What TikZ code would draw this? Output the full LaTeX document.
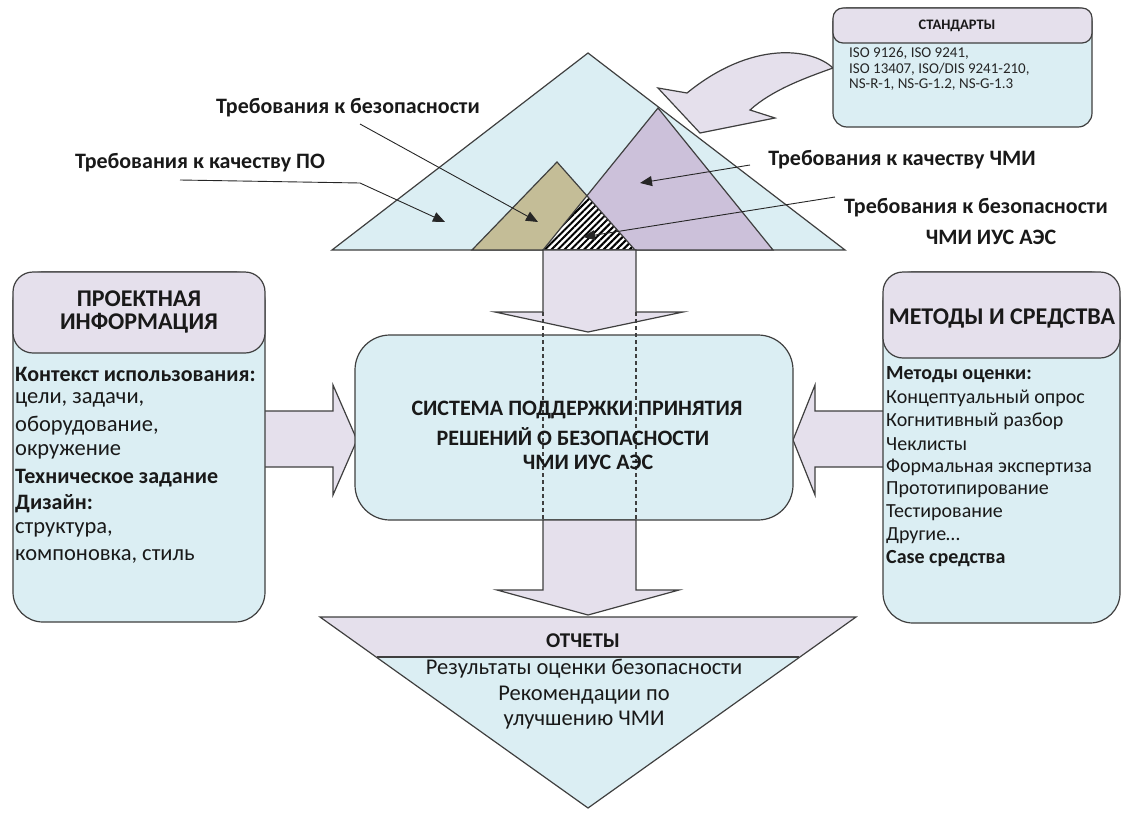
\documentclass[tikz,border=0pt]{standalone}
\usepackage{fontspec}
\setmainfont{Carlito}
\usetikzlibrary{arrows.meta,patterns.meta}
\definecolor{lblue}{HTML}{DBEEF3}
\definecolor{lav}{HTML}{E5E0EC}
\definecolor{purp}{HTML}{CCC1DA}
\definecolor{tanc}{HTML}{C4BD97}
\definecolor{edgec}{HTML}{3F3F3F}
\begin{document}
\begin{tikzpicture}[x=1pt,y=-1pt,
  outl/.style={draw=edgec,line width=1.2pt,line join=miter},
  ptr/.style={draw=black!85,line width=0.9pt,-{Triangle[length=12pt,width=10pt]}},
  txt/.style={inner sep=0pt,text=black!90,font=\fontsize{20}{24}\selectfont},
  btxt/.style={inner sep=0pt,text=black!90,font=\fontsize{20}{24}\selectfont\bfseries},
  lab/.style={inner sep=0pt,text=black!90,font=\fontsize{22}{26}\selectfont\bfseries},
  ltxt/.style={inner sep=0pt,text=black!90,font=\fontsize{22.5}{26}\selectfont},
  lbtxt/.style={inner sep=0pt,text=black!90,font=\fontsize{22}{26}\selectfont\bfseries},
  htxt/.style={inner sep=0pt,text=black!90,align=center,font=\fontsize{24}{23.5}\selectfont\bfseries},
  rtxt/.style={inner sep=0pt,text=black!90,font=\fontsize{22.5}{26}\selectfont},
  stxt/.style={inner sep=0pt,text=black!85,font=\fontsize{15}{16}\selectfont},
  panel/.style={outl,fill=lblue,inner sep=0pt},
  head/.style={outl,fill=lav,inner sep=0pt},
  blockarrow/.style={outl,fill=lav}]
\useasboundingbox (0,0) rectangle (1126,814);

% ---- pyramid of requirements
\path[outl,fill=lblue] (588,53) -- (845,250) -- (332,250) -- cycle;
\path[fill=tanc] (557,162) -- (635,250) -- (472,250) -- cycle;
\path[fill=purp] (658,108) -- (773,250) -- (543,250) -- cycle;
\path[fill=white] (587,196) -- (635,250) -- (543,250) -- cycle;
\path[pattern={Lines[angle=45,distance=4.6pt,line width=2.1pt]},pattern color=black] (587,196) -- (635,250) -- (543,250) -- cycle;
\draw[outl] (557,162) -- (635,250) -- (472,250) -- cycle;
\draw[outl] (658,108) -- (773,250) -- (543,250) -- cycle;

% ---- top block arrow
\path[blockarrow] (543,250) -- (543,312) -- (495,312) -- (588,332) -- (683,312) -- (636,312) -- (636,250) -- cycle;

% ---- side block arrows
\path[blockarrow] (262,411) -- (333,411) -- (333,385) -- (357,440) -- (333,495) -- (333,467) -- (262,467) -- cycle;
\path[blockarrow] (886,411) -- (815,411) -- (815,385) -- (793,440) -- (815,495) -- (815,467) -- (886,467) -- cycle;

% ---- central box
\node (sys) [panel,rounded corners=35pt,minimum width=438pt,minimum height=185pt] at (574,427.5) {};
\draw[edgec,line width=1.2pt,dash pattern=on 4pt off 3pt] (543,312) -- (543,520);
\draw[edgec,line width=1.2pt,dash pattern=on 4pt off 3pt] (636,312) -- (636,520);
\node (s1) [lab] at (577,410) {СИСТЕМА ПОДДЕРЖКИ ПРИНЯТИЯ};
\node (s2) [lab] at (573,437) {РЕШЕНИЙ О БЕЗОПАСНОСТИ};
\node (s3) [lab] at (588,462) {ЧМИ ИУС АЭС};

% ---- bottom block arrow
\path[blockarrow] (543,520) -- (543,590) -- (497,590) -- (588,615) -- (679,590) -- (636,590) -- (636,520) -- cycle;

% ---- reports triangle
\path[fill=lav] (320,617) -- (856,617) -- (799,657) -- (377,657) -- cycle;
\path[fill=lblue] (377,657) -- (799,657) -- (588,808) -- cycle;
\draw[outl] (320,617) -- (856,617) -- (588,808) -- cycle;
\draw[outl] (377,657) -- (799,657);
\node (r0) [inner sep=0pt,text=black!90,font=\fontsize{21}{24}\selectfont\bfseries] at (583,641) {ОТЧЕТЫ};
\node (r1) [rtxt] at (584,669) {Результаты оценки безопасности};
\node (r2) [rtxt] at (584,695) {Рекомендации по};
\node (r3) [rtxt] at (584,720) {улучшению ЧМИ};

% ---- left panel
\node (pin) [panel,rounded corners=30pt,minimum width=252pt,minimum height=350pt] at (139,447) {};
\node (pinH) [head,rounded corners=20pt,minimum width=252pt,minimum height=81pt] at (139,312.5) {};
\node (pinT) [htxt] at (139,312) {ПРОЕКТНАЯ\\ИНФОРМАЦИЯ};
\node (l1) [lbtxt,anchor=west] at (15,374) {Контекст использования:};
\node (l2) [ltxt,anchor=west] at (15,400) {цели, задачи,};
\node (l3) [ltxt,anchor=west] at (15,426) {оборудование,};
\node (l4) [ltxt,anchor=west] at (15,452) {окружение};
\node (l5) [lbtxt,anchor=west] at (15,478) {Техническое задание};
\node (l6) [lbtxt,anchor=west] at (15,504) {Дизайн:};
\node (l7) [ltxt,anchor=west] at (15,530) {структура,};
\node (l8) [ltxt,anchor=west] at (15,556) {компоновка, стиль};

% ---- right panel
\node (met) [panel,rounded corners=30pt,minimum width=237pt,minimum height=351pt] at (1001.5,447.5) {};
\node (metH) [head,rounded corners=20pt,minimum width=237pt,minimum height=86pt] at (1001.5,315) {};
\node (metT) [htxt] at (1002,318) {МЕТОДЫ И СРЕДСТВА};
\node (m1) [btxt,anchor=west] at (886,375) {Методы оценки:};
\node (m2) [txt,anchor=west] at (886,398) {Концептуальный опрос};
\node (m3) [txt,anchor=west] at (886,421) {Когнитивный разбор};
\node (m4) [txt,anchor=west] at (886,444) {Чеклисты};
\node (m5) [txt,anchor=west] at (886,467) {Формальная экспертиза};
\node (m6) [txt,anchor=west] at (886,490) {Прототипирование};
\node (m7) [txt,anchor=west] at (886,513) {Тестирование};
\node (m8) [txt,anchor=west] at (886,536) {Другие…};
\node (m9) [btxt,anchor=west] at (886,559) {Case средства};

% ---- curved arrow from standards
\path[blockarrow] (833,68) .. controls (812,48) and (752,40) .. (687,93) -- (658,88) -- (700,133) -- (775,118) -- (750,110) .. controls (772,90) and (805,78) .. (833,68) -- cycle;

% ---- standards box
\node (std) [panel,rounded corners=14pt,minimum width=259pt,minimum height=119pt] at (962.5,67.5) {};
\node (stdH) [head,rounded corners=10pt,minimum width=259pt,minimum height=35pt] at (962.5,25.5) {};
\node (stdT) [inner sep=0pt,text=black!90,font=\fontsize{14.5}{16}\selectfont\bfseries] at (957,25.5) {СТАНДАРТЫ};
\node (st1) [stxt,anchor=west] at (849,53) {ISO 9126, ISO 9241,};
\node (st2) [stxt,anchor=west] at (849,69) {ISO 13407, ISO/DIS 9241-210,};
\node (st3) [stxt,anchor=west] at (849,85) {NS-R-1, NS-G-1.2, NS-G-1.3};

% ---- labels and pointers
\node (qPO) [lab] at (200,163) {Требования к качеству ПО};
\node (qSafe) [lab] at (348,108) {Требования к безопасности};
\node (qHMI) [lab] at (902,160) {Требования к качеству ЧМИ};
\node (qSH1) [lab] at (976,208) {Требования к безопасности};
\node (qSH2) [lab] at (991,237) {ЧМИ ИУС АЭС};

\coordinate (poStart) at (180,180);
\coordinate (poKnee) at (360,183);
\coordinate (poTip) at (445,222);
\coordinate (sfStart) at (360,124);
\coordinate (sfTip) at (538,222);
\coordinate (hmStart) at (750,165);
\coordinate (hmTip) at (640,183);
\coordinate (shStart) at (835,197);
\coordinate (shTip) at (583,237);
\draw[ptr] (poStart) -- (poKnee) -- (poTip);
\draw[ptr] (sfStart) -- (sfTip);
\draw[ptr] (hmStart) -- (hmTip);
\draw[ptr] (shStart) -- (shTip);
\end{tikzpicture}
\end{document}
